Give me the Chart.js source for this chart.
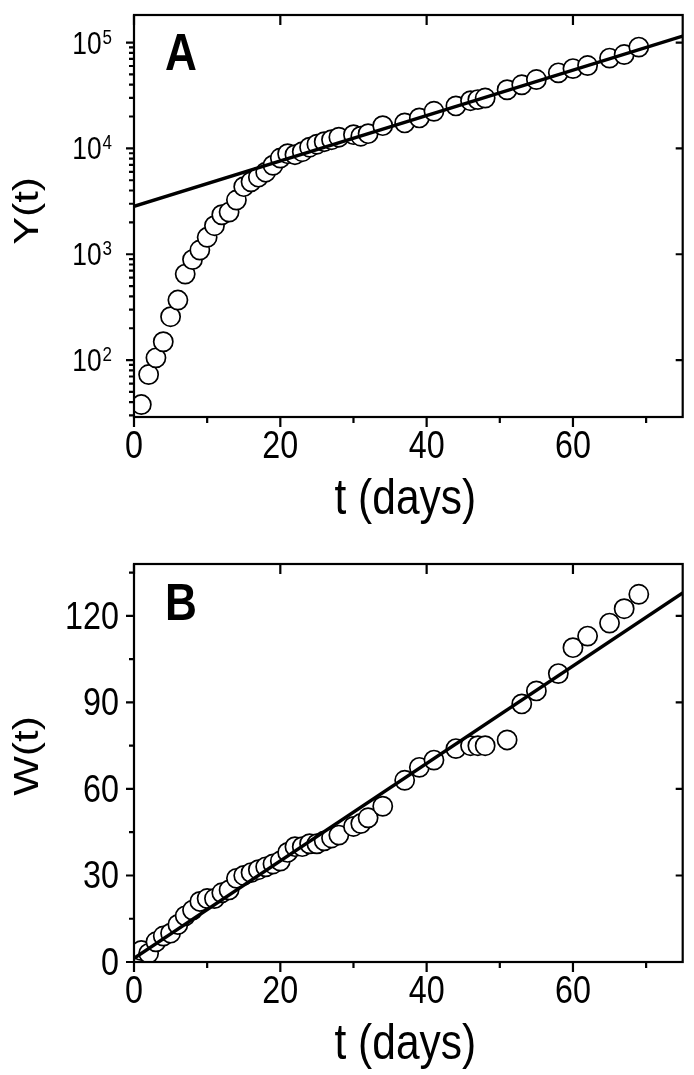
<!DOCTYPE html>
<html lang="en">
<head>
    <meta charset="UTF-8">
    <title>Y(t) and W(t)</title>
    <script src="https://cdn.jsdelivr.net/npm/chart.js"></script>
    <style>
        body { margin: 0; background: #fff; }
        .wrap { position: relative; width: 694px; height: 1075px; }
        canvas { position: absolute; left: 0; }
        #chartA { top: 0; }
        #chartB { top: 540px; }
    </style>
</head>
<body>
    <div class="wrap">
        <canvas id="chartA" width="694" height="540"></canvas>
        <canvas id="chartB" width="694" height="535"></canvas>
    </div>

    <script>
        // days with data
        const days = [1, 2, 3, 4, 5, 6, 7, 8, 9, 10, 11, 12, 13, 14, 15, 16, 17, 18, 19, 20,
                      21, 22, 23, 24, 25, 26, 27, 28, 30, 31, 32, 34, 37, 39, 41, 44, 46, 47, 48,
                      51, 53, 55, 58, 60, 62, 65, 67, 69];
        // panel A, Y(t) (log axis)
        const valuesY = [38, 73, 105, 149, 257, 369, 649, 890, 1096, 1445, 1860, 2360, 2500, 3250,
                         4350, 4840, 5350, 5960, 6930, 8110, 8910, 8720, 9300, 10260, 10950, 11570,
                         12080, 12760, 13480, 13030, 13780, 16400, 17400, 19400, 22400, 25200, 28200,
                         28900, 29900, 35800, 39900, 44700, 51700, 56700, 60600, 71300, 77000, 90500];
        // panel B, W(t)
        const valuesW = [4, 3, 7, 9, 10, 13, 16, 18, 21, 22, 22, 24, 25, 29, 30, 31, 32, 33, 34, 35,
                         38, 40, 40, 41, 41, 42, 43, 44, 47, 48, 50, 54, 63, 67.5, 70, 74, 75, 75, 75,
                         77, 89.5, 94, 100, 109, 113, 117.5, 122.5, 127.5];
        // fitted lines (end points)
        const fitT = [0, 75];
        const fitY = [2830, 115000];
        const fitW = [1.3, 128];

        // tick values
        const xMajor = [0, 20, 40, 60];
        const xMinor = [10, 30, 50, 70];
        const yMajorA = [100, 1000, 10000, 100000];
        const yMinorA = [30, 40, 50, 60, 70, 80, 90,
                         200, 300, 400, 500, 600, 700, 800, 900,
                         2000, 3000, 4000, 5000, 6000, 7000, 8000, 9000,
                         20000, 30000, 40000, 50000, 60000, 70000, 80000, 90000];
        const yMajorB = [0, 30, 60, 90, 120];
        const yMinorB = [15, 45, 75, 105, 135];

        const SQ = 0.85; // the figure is a little narrower than tall
        const FAMILY = '"Liberation Sans", Arial, sans-serif';

        function text(ctx, str, x, y, size, align, bold) {
            ctx.save();
            ctx.font = (bold ? 'bold ' : '') + size + 'px ' + FAMILY;
            ctx.textAlign = align;
            ctx.textBaseline = 'alphabetic';
            ctx.fillStyle = '#000';
            ctx.translate(x, y);
            ctx.scale(SQ, 1);
            ctx.fillText(str, 0, 0);
            ctx.restore();
        }

        function textWidth(ctx, str, size) {
            ctx.save();
            ctx.font = size + 'px ' + FAMILY;
            let w = ctx.measureText(str).width * SQ;
            ctx.restore();
            return w;
        }

        // frame, ticks and all labels
        const framePlugin = {
            id: 'frame',
            afterDraw(chart, args, o) {
                let ctx = chart.ctx;
                let a = chart.chartArea;
                let xs = chart.scales.x, ys = chart.scales.y;
                ctx.save();
                ctx.strokeStyle = '#000';
                ctx.lineWidth = 2.2;
                ctx.strokeRect(a.left, a.top, a.right - a.left, a.bottom - a.top);

                ctx.beginPath();
                xMajor.forEach(v => {
                    let px = xs.getPixelForValue(v);
                    ctx.moveTo(px, a.bottom); ctx.lineTo(px, a.bottom + 10);
                    ctx.moveTo(px, a.top); ctx.lineTo(px, a.top + 10);
                });
                xMinor.forEach(v => {
                    let px = xs.getPixelForValue(v);
                    ctx.moveTo(px, a.bottom); ctx.lineTo(px, a.bottom + 6);
                });
                o.yMajor.forEach(v => {
                    let py = ys.getPixelForValue(v);
                    ctx.moveTo(a.left, py); ctx.lineTo(a.left - 8, py);
                    ctx.moveTo(a.right, py); ctx.lineTo(a.right - 7, py);
                });
                o.yMinor.forEach(v => {
                    let py = ys.getPixelForValue(v);
                    ctx.moveTo(a.left, py); ctx.lineTo(a.left - 5, py);
                });
                ctx.stroke();
                ctx.restore();

                xMajor.forEach(v => {
                    text(ctx, String(v), xs.getPixelForValue(v), a.bottom + 41, 38, 'center');
                });

                if (o.log) {
                    o.yMajor.forEach(v => {
                        let py = ys.getPixelForValue(v);
                        let exp = String(Math.round(Math.log10(v)));
                        let right = 112;
                        let ws = textWidth(ctx, exp, 20);
                        text(ctx, exp, right, py + 1, 20, 'right');
                        text(ctx, '10', right - ws - 1, py + 11, 31, 'right');
                    });
                } else {
                    o.yMajor.forEach(v => {
                        text(ctx, String(v), 119, ys.getPixelForValue(v) + 13, 38, 'right');
                    });
                }

                text(ctx, 't (days)', (a.left + a.right) / 2 - 3, a.bottom + 97, 50, 'center');

                // rotated axis title
                ctx.save();
                ctx.font = '42px ' + FAMILY;
                ctx.fillStyle = '#000';
                ctx.textAlign = 'center';
                ctx.translate(38, o.titleY);
                ctx.scale(SQ, 1);
                ctx.rotate(-Math.PI / 2);
                ctx.fillText(o.yTitle, 0, 0);
                ctx.restore();

                text(ctx, o.letter, 165, a.top + o.letterDy, 52, 'left', true);
            }
        };

        function makeChart(id, yValues, yFit, yScale, padBottom, padTop, frame) {
            return new Chart(document.getElementById(id), {
                type: 'scatter',
                data: {
                    datasets: [{
                        data: fitT.map((t, i) => ({ x: t, y: yFit[i] })),
                        showLine: true,
                        borderColor: '#000',
                        borderWidth: 3.5,
                        pointRadius: 0,
                        order: 0
                    }, {
                        data: days.map((t, i) => ({ x: t, y: yValues[i] })),
                        pointRadius: 9.6,
                        pointBorderWidth: 1.7,
                        pointBorderColor: '#000',
                        pointBackgroundColor: '#fff',
                        order: 1
                    }]
                },
                options: {
                    responsive: false,
                    animation: false,
                    layout: { padding: { left: 134, right: 10, top: padTop, bottom: padBottom } },
                    plugins: {
                        legend: { display: false },
                        tooltip: { enabled: false },
                        frame: frame
                    },
                    scales: {
                        x: { type: 'linear', min: 0, max: 75, display: false },
                        y: Object.assign({ display: false }, yScale)
                    }
                },
                plugins: [framePlugin]
            });
        }

        makeChart('chartA', valuesY, fitY,
            { type: 'logarithmic', min: 29, max: 182000 }, 123, 15,
            { log: true, yMajor: yMajorA, yMinor: yMinorA, yTitle: 'Y(t)', titleY: 211, letter: 'A', letterDy: 55 });

        makeChart('chartB', valuesW, fitW,
            { type: 'linear', min: 0, max: 138 }, 113, 24,
            { log: false, yMajor: yMajorB, yMinor: yMinorB, yTitle: 'W(t)', titleY: 216, letter: 'B', letterDy: 56 });
    </script>
</body>
</html>
